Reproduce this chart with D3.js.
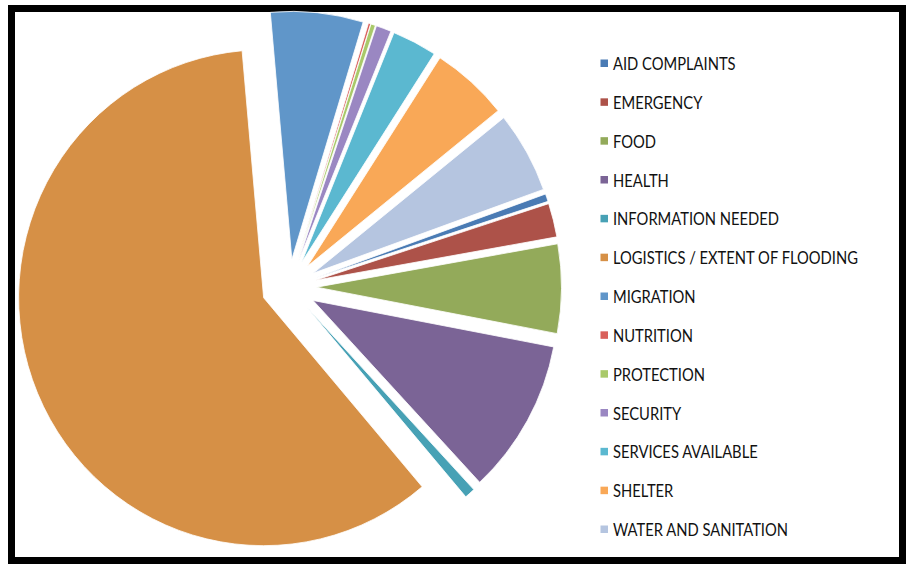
<!DOCTYPE html>
<html><head><meta charset="utf-8">
<script src="https://cdn.jsdelivr.net/npm/d3@7"></script>
<style>body{margin:0;background:#fff}svg{display:block}</style>
</head><body>
<svg id="c" width="906" height="564"></svg>
<script>
const categories = ["AID COMPLAINTS","EMERGENCY","FOOD","HEALTH","INFORMATION NEEDED","LOGISTICS / EXTENT OF FLOODING","MIGRATION","NUTRITION","PROTECTION","SECURITY","SERVICES AVAILABLE","SHELTER","WATER AND SANITATION"];
const values = [0.5, 2.2, 5.8, 10.1, 0.7, 59.8, 6.1, 0.15, 0.3, 1.0, 2.95, 5.1, 5.3];
const colors = ["#4a7bb4","#ad5249","#93aa5a","#7b6496","#47a1b5","#d69046","#6096c9","#d9605b","#a9c96a","#9a87c2","#5bb8d0","#f9a857","#b5c5e0"];

const data = categories.map((c,i)=>({cat:c, v:values[i]}));
const color = d3.scaleOrdinal().domain(categories).range(colors);
const svg = d3.select("#c");

svg.append("rect").attr("x",11.5).attr("y",8.5).attr("width",891).attr("height",552)
  .attr("fill","#fff").attr("stroke","#000").attr("stroke-width",7);

const startDeg = 70.2;
const a0 = startDeg*Math.PI/180;
const pie = d3.pie().sort(null).value(d=>d.v).startAngle(a0).endAngle(a0+2*Math.PI);
const R = 245, E = 27.5;
const arc = d3.arc().innerRadius(0).outerRadius(R);
const g = svg.append("g").attr("transform","translate(289,287) scale(1,1.012)");
g.selectAll("path").data(pie(data)).join("path")
  .attr("d",arc)
  .attr("fill",d=>color(d.data.cat))
  .attr("stroke","#fff").attr("stroke-width",0.8)
  .attr("transform",d=>{const m=(d.startAngle+d.endAngle)/2;return `translate(${E*Math.sin(m)},${-E*Math.cos(m)})`;});

const y = d3.scalePoint().domain(categories).range([64,530]);
const leg = svg.append("g");
const rows = leg.selectAll("g").data(categories).join("g").attr("transform",d=>`translate(600,${y(d)})`);
rows.append("rect").attr("x",0.5).attr("y",-4.5).attr("width",7.5).attr("height",7.5).attr("fill",d=>color(d));
const txt = rows.append("text").text(d=>d)
  .attr("font-family","Lato, 'Open Sans', sans-serif").attr("font-size",16.4).attr("fill","#111");
let maxW = 0; txt.each(function(){maxW=Math.max(maxW,this.getComputedTextLength());});
const sx = 245/maxW;
txt.attr("transform",`translate(13,6) scale(${sx.toFixed(4)},1)`);
</script>
</body></html>
